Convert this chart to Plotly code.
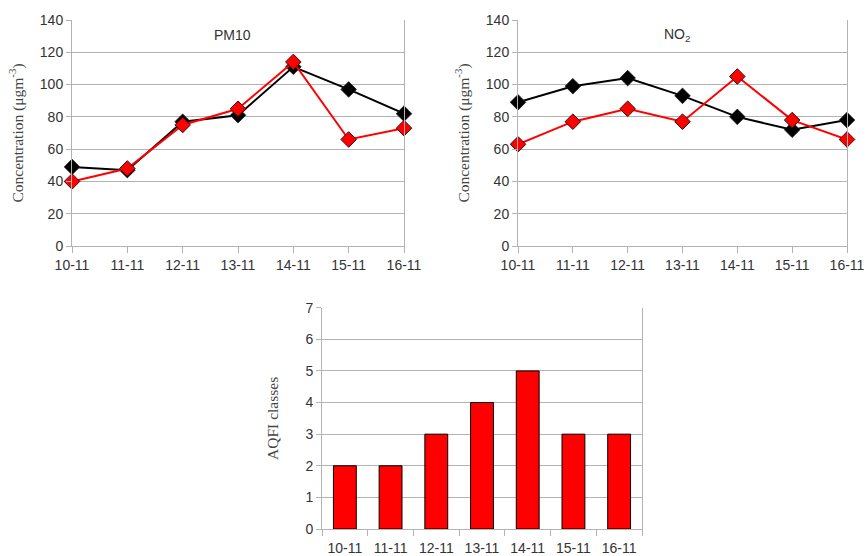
import plotly.graph_objects as go

dates = ["10-11", "11-11", "12-11", "13-11", "14-11", "15-11", "16-11"]
pm10_black = [49, 47, 77, 81, 111, 97, 82]
pm10_red = [40, 48, 75, 85, 114, 66, 73]
no2_black = [89, 99, 104, 93, 80, 72, 78]
no2_red = [63, 77, 85, 77, 105, 78, 66]
aqfi = [2, 2, 3, 4, 5, 3, 3]

W, H = 867, 556
def px(x): return x / W
def py(y): return 1 - y / H

fig = go.Figure()

def add_lines(xa, ya, black, red):
    fig.add_trace(go.Scatter(x=dates, y=black, xaxis=xa, yaxis=ya, mode="lines+markers",
                             line=dict(color="black", width=2),
                             marker=dict(symbol="diamond", size=12, color="black",
                                         line=dict(color="#222", width=0.8)),
                             showlegend=False, cliponaxis=False))
    fig.add_trace(go.Scatter(x=dates, y=red, xaxis=xa, yaxis=ya, mode="lines+markers",
                             line=dict(color="#ff0000", width=2),
                             marker=dict(symbol="diamond", size=12, color="#ff0000",
                                         line=dict(color="#331111", width=1)),
                             showlegend=False, cliponaxis=False))

add_lines("x", "y", pm10_black, pm10_red)
add_lines("x2", "y2", no2_black, no2_red)

fig.add_trace(go.Bar(x=dates, y=aqfi, xaxis="x3", yaxis="y3", width=0.5,
                     marker=dict(color="#ff0000", line=dict(color="black", width=1)),
                     showlegend=False))

grid = "#b3b3b3"
tickfont = dict(family="Liberation Sans, Arial, sans-serif", size=14, color="#333333")
titlefont = dict(family="Liberation Serif, Times New Roman, serif", size=15.5, color="#444444")

def xaxis_common(domain, anchor, rng, boundaries=False):
    d = dict(domain=domain, anchor=anchor, type="category", range=rng,
             showgrid=False, showline=True, linecolor=grid, linewidth=1,
             ticks="outside", ticklen=6, tickcolor=grid, tickfont=tickfont,
             fixedrange=True, automargin=False)
    if boundaries:
        d["tickson"] = "boundaries"
        d["ticklabelstandoff"] = 6
    return d

def yaxis_common(domain, anchor, rng, dtick, title, standoff):
    return dict(domain=domain, anchor=anchor, range=rng, dtick=dtick,
                showgrid=True, gridcolor=grid, gridwidth=1,
                showline=True, linecolor=grid, linewidth=1, mirror=True,
                ticks="outside", ticklen=5, tickcolor=grid, tickfont=tickfont,
                zeroline=False, automargin=False,
                title=dict(text=title, font=titlefont, standoff=standoff))

top_y = [py(246), py(20)]
fig.update_layout(
    width=W, height=H, margin=dict(l=0, r=0, t=0, b=0),
    paper_bgcolor="white", plot_bgcolor="white",
    xaxis=xaxis_common([px(72), px(404)], "y", [0, 6]),
    yaxis=yaxis_common(top_y, "x", [0, 140], 20, "Concentration (μgm<sup>-3</sup>)", 12),
    xaxis2=xaxis_common([px(518), px(847)], "y2", [0, 6]),
    yaxis2=yaxis_common(top_y, "x2", [0, 140], 20, "Concentration (μgm<sup>-3</sup>)", 12),
    xaxis3=xaxis_common([px(322), px(642)], "y3", [-0.5, 6.5], boundaries=True),
    yaxis3=yaxis_common([py(529), py(307.7)], "x3", [0, 7], 1, "AQFI classes", 22),
)

annfont = dict(family="Liberation Sans, Arial, sans-serif", size=14, color="#333333")
fig.add_annotation(text="PM10", x=px(233), y=py(35), xref="paper", yref="paper",
                   xanchor="center", yanchor="middle", showarrow=False, font=annfont)
fig.add_annotation(text="NO<sub>2</sub>", x=px(677), y=py(35), xref="paper", yref="paper",
                   xanchor="center", yanchor="middle", showarrow=False, font=annfont)

fig.write_html("out.html", config={"displayModeBar": False},
               post_script="document.body.style.margin='0';document.body.style.overflow='hidden';")
